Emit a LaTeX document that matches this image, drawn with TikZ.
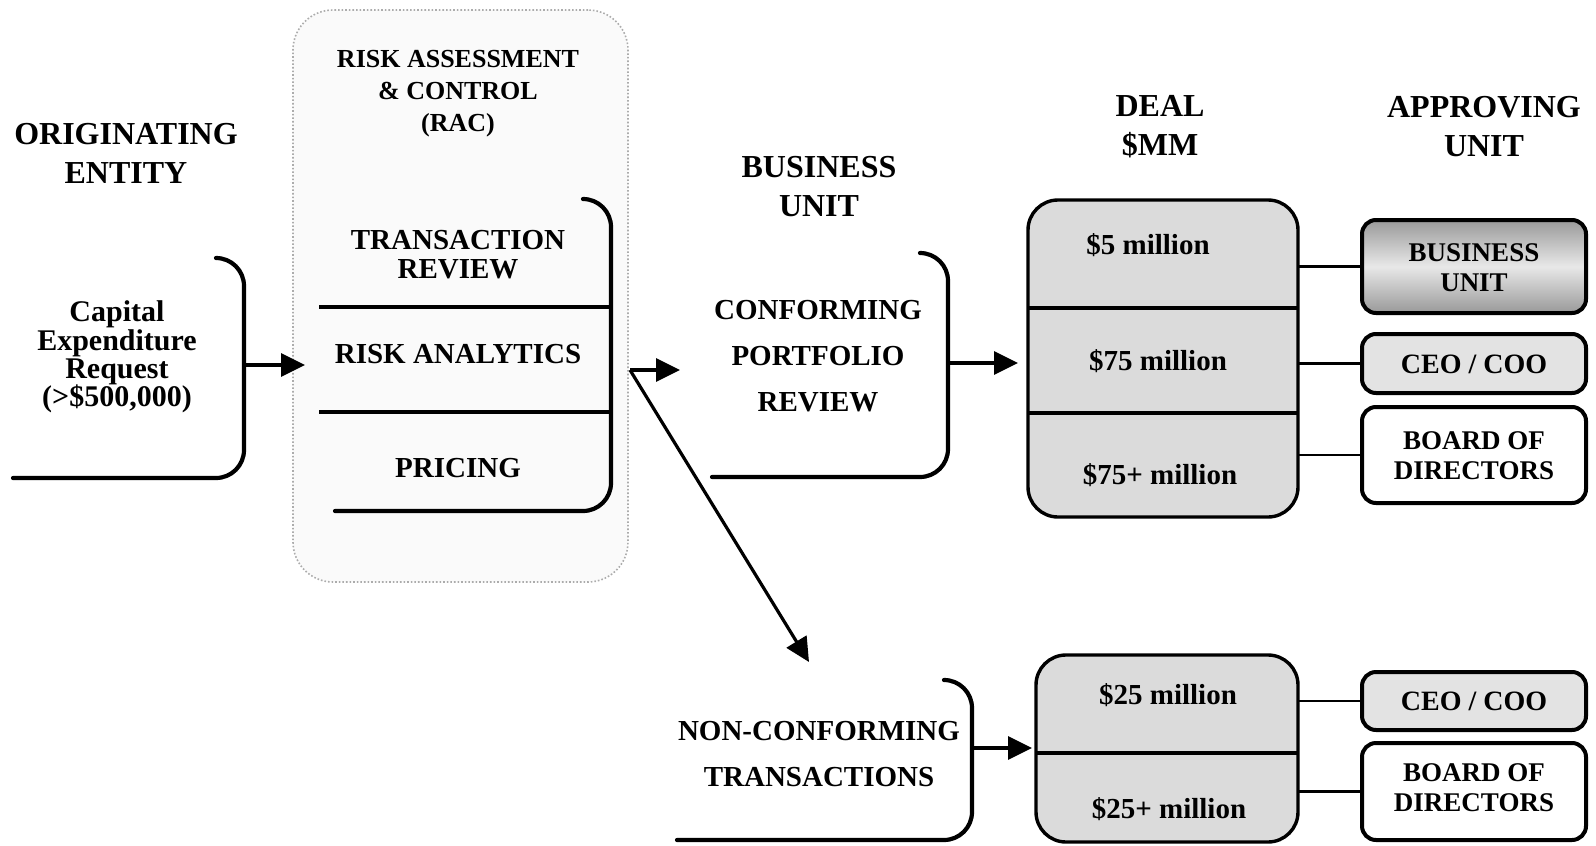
\documentclass[tikz,border=0pt]{standalone}
\usepackage{fontspec}
\setmainfont{Liberation Serif}
\usetikzlibrary{arrows.meta,fit,calc}

\begin{document}
\begin{tikzpicture}[x=0.5pt,y=-0.5pt,
  title/.style={font=\bfseries\fontsize{16}{19.5}\selectfont, align=center, inner sep=0},
  body/.style={font=\bfseries\fontsize{14.5}{23}\selectfont, align=center, inner sep=0},
  small/.style={font=\bfseries\fontsize{13.5}{15}\selectfont, align=center, inner sep=0},
  area/.style={inner sep=0, outer sep=0},
  openframe/.style={draw=black, line width=2.1pt, rounded corners=14pt, line cap=round},
  racframe/.style={area, draw=gray!65, line width=0.8pt, densely dotted, fill=gray!4, rounded corners=20pt},
  dealbox/.style={area, draw=black, line width=1.7pt, rounded corners=15pt, fill=gray!28},
  apprbox/.style={area, draw=black, line width=2pt, rounded corners=7pt},
  divider/.style={line width=2pt},
  link/.style={line width=1.2pt},
  flow/.style={line width=1.6pt, -{Triangle[length=12pt,width=11.5pt]}}
]
\useasboundingbox (0,0) rectangle (1596,846);

% ---- column titles ----
\node[title] (tOrig) at (126,153) {ORIGINATING\\ENTITY};
\node[title] (tBU)   at (819,187) {BUSINESS\\UNIT};
\node[title] (tDeal) at (1160,127) {DEAL\\\$MM};
\node[title] (tAppr) at (1484,127) {APPROVING\\UNIT};

% ---- originating request ----
\node[area, fit={(13,258) (244,478)}] (capbox) {};
\draw[openframe] ([xshift=-14pt]capbox.north east) -- (capbox.north east)
  -- (capbox.south east) -- (capbox.south west);
\node[body, font=\bfseries\fontsize{15}{14.2}\selectfont] (capText) at (117,357)
  {Capital\\Expenditure\\Request\\(>\$500,000)};

% ---- risk assessment & control ----
\node[racframe, fit={(293,10) (628,582)}] (racout) {};
\node[small, font=\bfseries\fontsize{13}{16}\selectfont] (racTitle) at (458,94)
  {RISK ASSESSMENT\\\& CONTROL\\(RAC)};
\node[area, fit={(319,199) (611,511)}] (racin) {};
\draw[openframe] ([xshift=-14pt]racin.north east) -- (racin.north east)
  -- (racin.south east) -- ([xshift=8pt]racin.south west);
\draw[divider] (319,307) -- (racin.east |- 319,307);
\draw[divider] (319,412) -- (racin.east |- 319,412);
\node[body, font=\bfseries\fontsize{14.5}{14.5}\selectfont] (trText) at (458,255) {TRANSACTION\\REVIEW};
\node[body] (raText) at (458,354) {RISK ANALYTICS};
\node[body] (prText) at (458,468) {PRICING};

% ---- business unit review ----
\node[area, fit={(712,253) (948,477)}] (confbox) {};
\draw[openframe] ([xshift=-14pt]confbox.north east) -- (confbox.north east)
  -- (confbox.south east) -- (confbox.south west);
\node[body] (confText) at (818,356) {CONFORMING\\PORTFOLIO\\REVIEW};

\node[area, fit={(677,680) (972,840)}] (ncbox) {};
\draw[openframe] ([xshift=-14pt]ncbox.north east) -- (ncbox.north east)
  -- (ncbox.south east) -- (ncbox.south west);
\node[body] (ncText) at (819,754) {NON-CONFORMING\\TRANSACTIONS};

% ---- deal size bands ----
\node[dealbox, fit={(1028,200) (1298,517)}] (deal1) {};
\draw[divider] (deal1.west |- 0,308) -- (deal1.east |- 0,308);
\draw[divider] (deal1.west |- 0,413) -- (deal1.east |- 0,413);
\node[body] (d1a) at (1148,245) {\$5 million};
\node[body] (d1b) at (1158,361) {\$75 million};
\node[body] (d1c) at (1160,475) {\$75+ million};

\node[dealbox, fit={(1036,655) (1298,842)}] (deal2) {};
\draw[divider] (deal2.west |- 0,753) -- (deal2.east |- 0,753);
\node[body] (d2a) at (1168,695) {\$25 million};
\node[body] (d2b) at (1169,809) {\$25+ million};

% ---- approving units ----
\node[apprbox, fit={(1362,220) (1586,313)}, top color=gray!80, bottom color=gray!80, middle color=gray!18] (bu) {};
\node[small] (buText) at (1474,268) {BUSINESS\\UNIT};
\node[apprbox, fit={(1362,334) (1586,393)}, fill=gray!22] (ceo1) {};
\node[body, font=\bfseries\fontsize{14}{15}\selectfont] (ceo1Text) at (1474,364) {CEO / COO};
\node[apprbox, fit={(1362,407) (1586,503)}, fill=white] (bod1) {};
\node[small] (bod1Text) at (1474,456) {BOARD OF\\DIRECTORS};

\node[apprbox, fit={(1362,672) (1586,730)}, fill=gray!22] (ceo2) {};
\node[body, font=\bfseries\fontsize{14}{15}\selectfont] (ceo2Text) at (1474,701) {CEO / COO};
\node[apprbox, fit={(1362,743) (1586,840)}, fill=white] (bod2) {};
\node[small] (bod2Text) at (1474,788) {BOARD OF\\DIRECTORS};

% ---- connectors ----
\draw[link] (deal1.east |- bu.west) -- (bu.west);
\draw[link] (deal1.east |- ceo1.west) -- (ceo1.west);
\draw[link] (deal1.east |- bod1.west) -- (bod1.west);
\draw[link] (deal2.east |- ceo2.west) -- (ceo2.west);
\draw[link] (deal2.east |- bod2.west) -- (bod2.west);

% ---- flow arrows ----
\draw[flow, shorten >=-6pt] (capbox.east |- 0,365) -- (racout.west |- 0,365);
\coordinate (fork) at (630,370);
\coordinate (nctip) at (809,662);
\draw[flow, shorten >=16pt] (fork) -- (fork -| confbox.west);
\draw[flow] (fork) -- (nctip);
\draw[flow, shorten >=5pt] (confbox.east |- 0,363) -- (deal1.west |- 0,363);
\draw[flow, shorten >=2pt] (ncbox.east |- 0,748) -- (deal2.west |- 0,748);
\end{tikzpicture}
\end{document}
